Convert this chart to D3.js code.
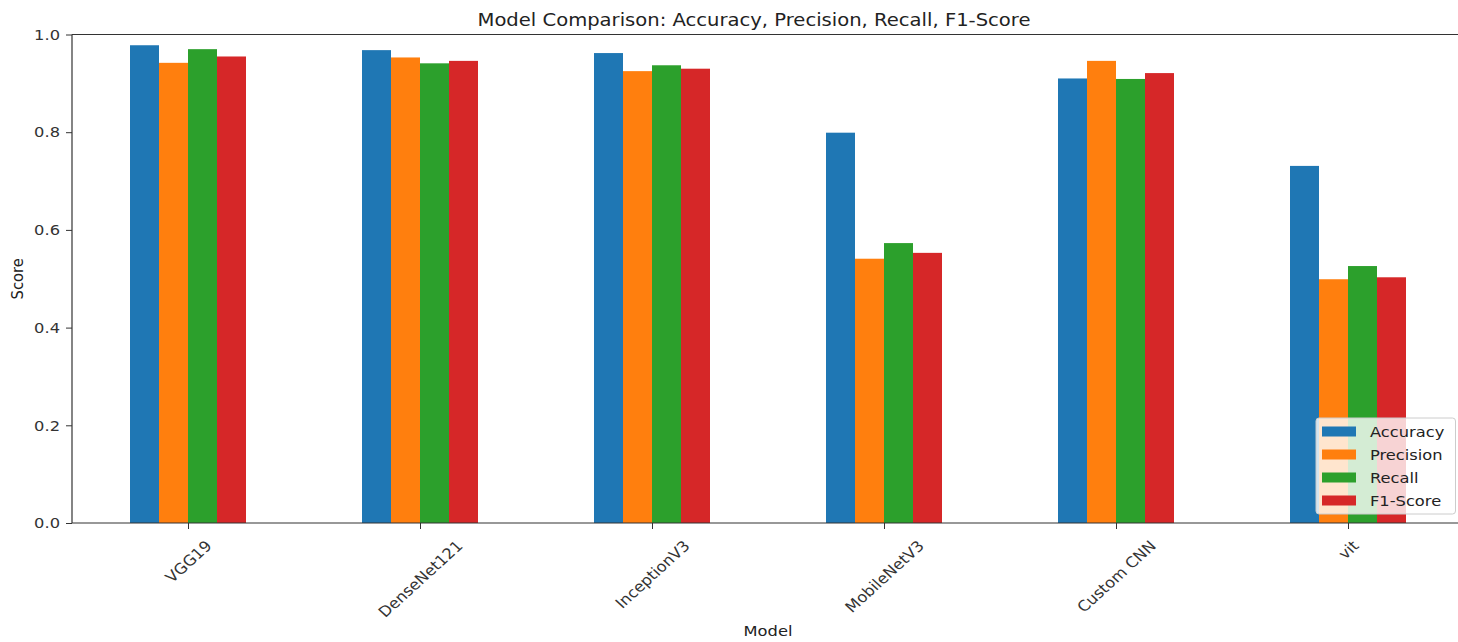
<!DOCTYPE html>
<html><head><meta charset="utf-8">
<script src="https://cdn.jsdelivr.net/npm/d3@7"></script>
<style>body{margin:0;background:#fff;} text{font-family:"DejaVu Sans",sans-serif;}</style>
</head><body><svg id="c" width="1458" height="642"></svg>
<script>
const models = ["VGG19","DenseNet121","InceptionV3","MobileNetV3","Custom CNN","vit"];
const metrics = ["Accuracy","Precision","Recall","F1-Score"];
const accuracy  = [0.978,0.968,0.962,0.799,0.910,0.731];
const precision = [0.942,0.953,0.925,0.541,0.946,0.499];
const recall    = [0.970,0.941,0.937,0.573,0.909,0.526];
const f1score   = [0.955,0.946,0.930,0.553,0.921,0.503];
const yTicks = [0.0,0.2,0.4,0.6,0.8,1.0];
const colors = ["#1f77b4","#ff7f0e","#2ca02c","#d62728"];
const series = [accuracy,precision,recall,f1score];

const SX = 1.1;   // horizontal stretch of the reference text
const FS = 14.8;  // base font size
const svg = d3.select("#c");
const L=72, R=1464, T=34.5, B=523;
const x = d3.scaleLinear().domain([-0.5, models.length-0.5]).range([L,R]);
const y = d3.scaleLinear().domain([0,1]).range([B,T]);
const bw = 0.125;

const g = svg.append("g");
series.forEach((vals,si)=>{
  g.selectAll(null).data(vals).enter().append("rect")
    .attr("x",(d,i)=>x(i-0.25+si*bw))
    .attr("width",x(bw)-x(0))
    .attr("y",d=>y(d))
    .attr("height",d=>y(0)-y(d))
    .attr("fill",colors[si]);
});

// y axis
const ya = svg.append("g").attr("transform",`translate(${L},0)`)
  .call(d3.axisLeft(y).tickValues(yTicks).tickFormat(d3.format(".1f")).tickSize(6).tickPadding(0));
ya.select(".domain").remove();
ya.selectAll("line").attr("stroke","#333");
ya.selectAll("text").each(function(){
  d3.select(this).attr("font-size",FS).attr("fill","#333").attr("x",0).attr("y",0)
   .attr("transform",`translate(-12,0) scale(${SX},1)`);
});

// x axis ticks
const xa = svg.append("g").attr("transform",`translate(0,${B})`)
  .call(d3.axisBottom(x).tickValues(d3.range(models.length)).tickFormat(i=>models[i]).tickSize(6));
xa.select(".domain").remove();
xa.selectAll("line").attr("stroke","#333");
xa.selectAll("text").each(function(d){
  const t=d3.select(this).attr("font-size",FS).attr("fill","#333")
    .attr("text-anchor","middle").attr("dy",null).attr("y",0);
  const w=this.getComputedTextLength(); const h=FS;
  const half=(w+h)*0.7071/2;
  t.attr("transform",`translate(0,${15+half}) scale(${SX},1) rotate(-45)`).attr("dy","0.35em");
});

// spines
[[L,L,T,B],[L,R,B,B],[L,R,T,T],[R,R,T,B]].forEach(s=>
  svg.append("line").attr("x1",s[0]).attr("x2",s[1]).attr("y1",s[2]).attr("y2",s[3]).attr("stroke","#333").attr("stroke-width",1.2));

// title and labels
svg.append("text").attr("transform",`translate(754,26) scale(${SX},1)`).attr("text-anchor","middle").attr("font-size",17.8).attr("fill","#222")
  .text("Model Comparison: Accuracy, Precision, Recall, F1-Score");
svg.append("text").attr("transform",`translate(23,${(T+B)/2}) scale(${SX},1) rotate(-90)`).attr("text-anchor","middle").attr("font-size",FS).attr("fill","#222").text("Score");
svg.append("text").attr("transform",`translate(${(L+R)/2},636) scale(${SX},1)`).attr("text-anchor","middle").attr("font-size",FS).attr("fill","#222").text("Model");

// legend
const lg = svg.append("g");
lg.append("rect").attr("x",1316).attr("y",418).attr("width",139.5).attr("height",96).attr("rx",3)
  .attr("fill","rgba(255,255,255,0.8)").attr("stroke","#ccc");
metrics.forEach((m,i)=>{
  const cy=431.5+i*23;
  lg.append("rect").attr("x",1322).attr("y",cy-5).attr("width",34).attr("height",10).attr("fill",colors[i]);
  lg.append("text").attr("transform",`translate(1370,${cy}) scale(${SX},1)`).attr("dy","0.35em").attr("font-size",FS).attr("fill","#222").text(m);
});
</script></body></html>
